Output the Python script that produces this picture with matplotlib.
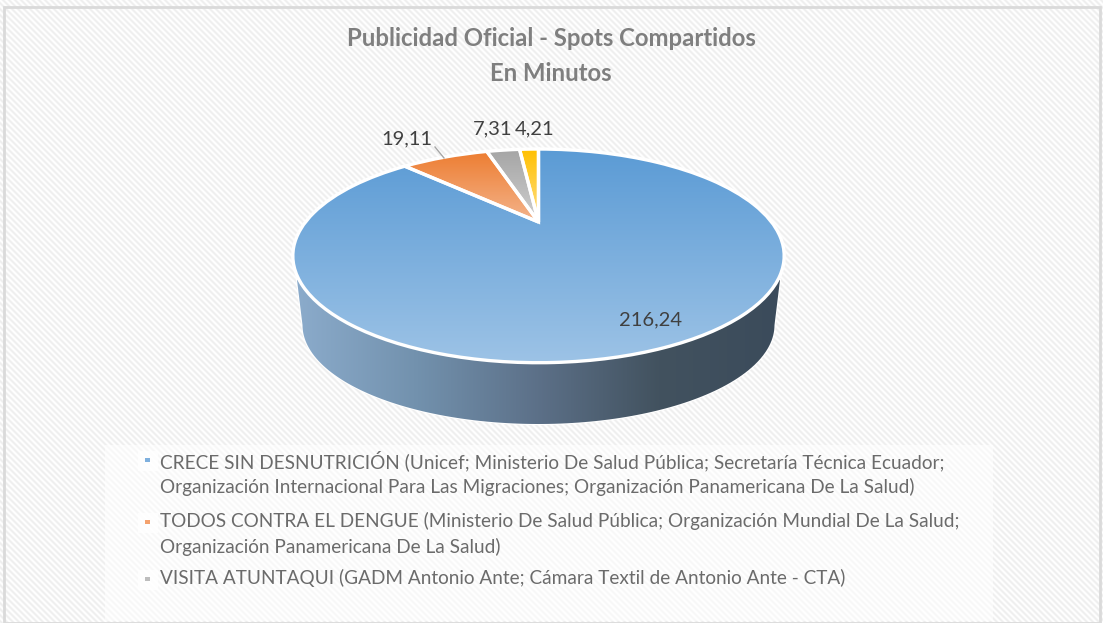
import numpy as np
import matplotlib
matplotlib.use("Agg")
import matplotlib.pyplot as plt
from matplotlib.colors import LinearSegmentedColormap
from matplotlib.patches import Polygon, Rectangle
from matplotlib.transforms import Transform

plt.rcParams['font.family'] = ['Lato', 'DejaVu Sans']

title = "Publicidad Oficial - Spots Compartidos\nEn Minutos"
minutos = [216.24, 19.11, 7.31, 4.21]
top_colors = ['#5B9BD5', '#ED7D31', '#A5A5A5', '#FFC000']
low_colors = ['#9DC3E6', '#F4B48C', '#CFCFCF', '#FFE08A']
legend_labels = [
    "CRECE SIN DESNUTRICIÓN (Unicef; Ministerio De Salud Pública; Secretaría Técnica Ecuador;\n"
    "Organización Internacional Para Las Migraciones; Organización Panamericana De La Salud)",
    "TODOS CONTRA EL DENGUE (Ministerio De Salud Pública; Organización Mundial De La Salud;\n"
    "Organización Panamericana De La Salud)",
    "VISITA ATUNTAQUI (GADM Antonio Ante; Cámara Textil de Antonio Ante - CTA)",
]
legend_colors = ['#7FB0DE', '#F4A26E', '#BDBDBD']
label_pos = [(651, 320), (407, 139), (493, 129), (535, 129)]
legend_y = [450, 512, 569]
W, H = 1103, 623


# tilted pie: unit circle -> picture pixels
class Tilt(Transform):
    input_dims = 2
    output_dims = 2

    def transform_non_affine(self, xy):
        xy = np.asarray(xy)
        d = 1 + 0.317 * xy[:, 1]
        return np.column_stack([538.5 + 233 * xy[:, 0] / d, 222 - 96.1 * xy[:, 1] / d])


fig = plt.figure(figsize=(W / 100, H / 100), dpi=100)
ax = fig.add_axes([0, 0, 1, 1])

# striped background
yy, xx = np.mgrid[0:H, 0:W]
stripes = 0.965 + 0.035 * np.cos(2 * np.pi * (xx - yy) / 6.0)
ax.imshow(stripes, cmap='gray', vmin=0, vmax=1, aspect='auto', extent=(0, W, H, 0), zorder=0)
ax.add_patch(Rectangle((4, 7), 1096, 616, fc='none', ec='#DADADA', lw=2, zorder=1))
ax.add_patch(Rectangle((105, 445), 888, 176, fc='white', ec='none', alpha=0.55, zorder=1))

# side wall of the pie
t = np.radians(np.linspace(180, 360, 120))
wall_xy = np.column_stack([538.5 + 236 * np.cos(t), 325 - 99 * np.sin(t)])
wall_xy = np.vstack([[297, 280], wall_xy, [780, 280], [538.5, 240]])
wall = Polygon(wall_xy, closed=True, fc='none', ec='white', lw=1.5, zorder=2)
ax.add_patch(wall)
wall_cmap = LinearSegmentedColormap.from_list(
    'wall', [(0, '#8BABCB'), (0.25, '#7291AD'), (0.5, '#5C7088'), (0.75, '#42525F'), (1, '#3B4B5B')])
wall_im = ax.imshow(np.linspace(0, 1, 256).reshape(1, -1), cmap=wall_cmap, aspect='auto',
                    extent=(297, 780, 430, 240), zorder=2)
wall_im.set_clip_path(wall)

# pie, each slice has its own vertical gradient
wedges, _ = ax.pie(minutos, startangle=90, counterclock=False,
                   wedgeprops=dict(fc='none', ec='white', lw=2.4, zorder=4))
tilt = Tilt() + ax.transData
for w, c1, c2 in zip(wedges, top_colors, low_colors):
    w.set_transform(tilt)
    ys = Tilt().transform(w.get_path().vertices)[:, 1]
    cmap = LinearSegmentedColormap.from_list('g', [c1, c2])
    im = ax.imshow(np.linspace(0, 1, 256).reshape(-1, 1), cmap=cmap, aspect='auto',
                   extent=(280, 800, ys.max(), ys.min()), zorder=3)
    im.set_clip_path(w)

# value labels
for v, (x, y) in zip(minutos, label_pos):
    ax.text(x, y, f"{v:.2f}".replace('.', ','), ha='center', va='center',
            fontsize=14.5, color='#404040', zorder=6)
ax.plot([435, 444], [147, 158], color='#A6A6A6', lw=1, zorder=5)

ax.text(551, 56, title, ha='center', va='center', fontsize=17.2, fontweight='bold',
        color='#7F7F7F', linespacing=1.6, zorder=6)

# legend
for lab, col, y in zip(legend_labels, legend_colors, legend_y):
    ax.add_patch(Rectangle((138, y + 1), 20, 20, fc='white', ec='none', alpha=0.8, zorder=4))
    ax.add_patch(Rectangle((145, y + 8), 5, 4, fc=col, ec='none', zorder=5))
    ax.text(160, y, lab, ha='left', va='top', fontsize=13.7, color='#6B6B6B',
            linespacing=1.5, zorder=6)

ax.set_xlim(0, W)
ax.set_ylim(H, 0)
ax.set_aspect('auto')
ax.axis('off')
fig.savefig('out.png', dpi=100)
